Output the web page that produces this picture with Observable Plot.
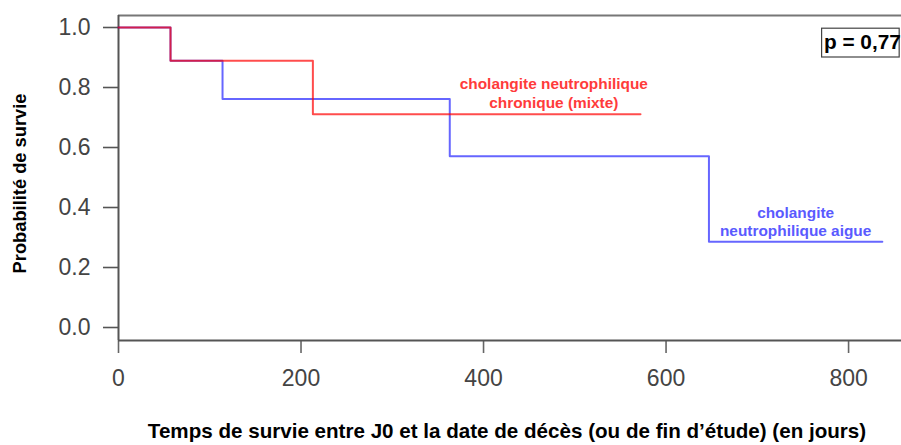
<!DOCTYPE html>
<html>
<head>
<meta charset="utf-8">
<script src="https://cdn.jsdelivr.net/npm/d3@7"></script>
<script src="https://cdn.jsdelivr.net/npm/@observablehq/plot@0.6"></script>
<style>
  html, body { margin: 0; padding: 0; background: #fff; }
</style>
</head>
<body>
<div id="chart"></div>
<script>
// Kaplan-Meier steps (time in days, survival probability)
const chronicTimes = [0, 57, 213, 572];
const chronicSurv  = [1, 0.889, 0.711, 0.711];
const acuteTimes   = [0, 57, 114, 363, 647, 837];
const acuteSurv    = [1, 0.889, 0.762, 0.571, 0.286, 0.286];

const xTicks = [0, 200, 400, 600, 800];
const yTicks = [0, 0.2, 0.4, 0.6, 0.8, 1.0];

const chronicLabel = "cholangite neutrophilique\nchronique (mixte)";
const acuteLabel = "cholangite\nneutrophilique aigue";
const pLabel = "p = 0,77";
const xTitle = "Temps de survie entre J0 et la date de décès (ou de fin d’étude) (en jours)";
const yTitle = "Probabilité de survie";

const chronic = chronicTimes.map((t, i) => ({t, s: chronicSurv[i]}));
const acute = acuteTimes.map((t, i) => ({t, s: acuteSurv[i]}));

const yMin = -0.0433, yMax = 1.04, xMax = 858;

const chart = Plot.plot({
  width: 901,
  height: 445,
  marginLeft: 118,
  marginRight: 0,
  marginTop: 15,
  marginBottom: 105,
  x: {domain: [0, xMax]},
  y: {domain: [yMin, yMax]},
  style: {fontFamily: "'Liberation Sans', Arial, Helvetica, sans-serif", background: "#fff", color: "#444"},
  marks: [
    Plot.axisY(yTicks, {tickSize: 15, tickPadding: 13, fontSize: 23, strokeWidth: 1.6, stroke: "#555", fill: "#444", tickFormat: d => d.toFixed(1), label: null}),
    Plot.axisX(xTicks, {tickSize: 13, tickPadding: 16, fontSize: 23, strokeWidth: 1.6, stroke: "#666", fill: "#444", label: null}),
    Plot.ruleY([yMax], {stroke: "#777", strokeWidth: 2}),
    Plot.ruleY([yMin], {stroke: "#555", strokeWidth: 2}),
    Plot.ruleX([0], {stroke: "#555", strokeWidth: 2}),
    Plot.line(acute, {x: "t", y: "s", curve: "step-after", stroke: "rgba(0,0,255,0.6)", strokeWidth: 2}),
    Plot.line(chronic, {x: "t", y: "s", curve: "step-after", stroke: "rgba(255,0,0,0.7)", strokeWidth: 2}),
    Plot.text([chronicLabel], {x: 477, y: 0.785, text: d => d, fill: "#ff3b3b", fontSize: 15.4, fontWeight: "bold", lineHeight: 1.24}),
    Plot.text([acuteLabel], {x: 742, y: 0.353, text: d => d, fill: "#5a5aff", fontSize: 15.4, fontWeight: "bold", lineHeight: 1.18}),
    Plot.rect([pLabel], {x1: 771, x2: 856, y1: 0.9, y2: 0.996, fill: "#fff", stroke: "#444", strokeWidth: 1.2}),
    Plot.text([pLabel], {x: 773, y: 0.95, text: d => d, textAnchor: "start", fill: "#000", fontSize: 20.8, fontWeight: "bold"}),
    Plot.text([yTitle], {frameAnchor: "left", text: d => d, textAnchor: "middle", rotate: -90, dx: -98, dy: 5.5, fontSize: 18.3, fontWeight: "bold", fill: "#000"}),
    Plot.text([xTitle], {frameAnchor: "bottom", text: d => d, textAnchor: "middle", dx: -3, dy: 97, fontSize: 20.6, fontWeight: "bold", fill: "#000"})
  ]
});
document.getElementById("chart").appendChild(chart);
</script>
</body>
</html>
